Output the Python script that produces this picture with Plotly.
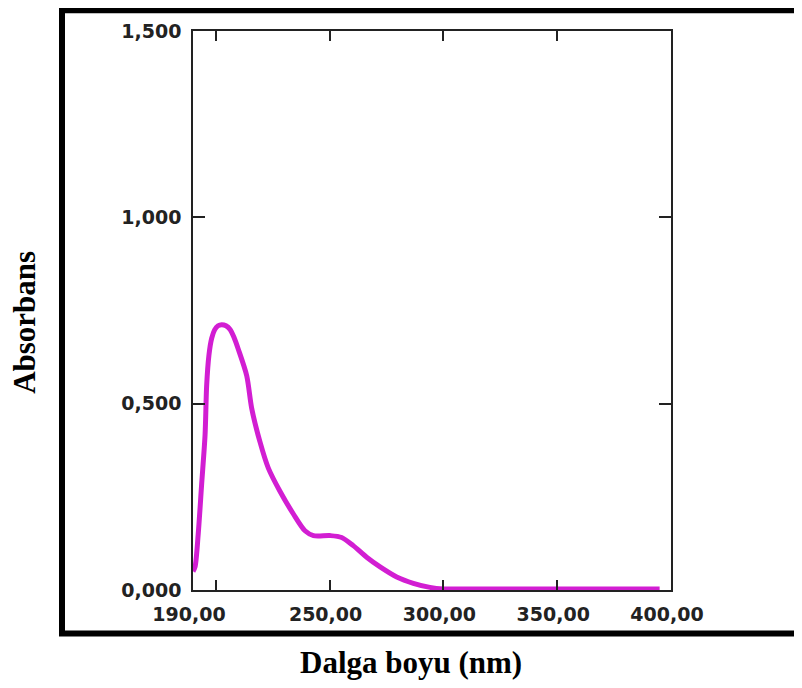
import plotly.graph_objects as go

# Data
wavelength = [190, 190.9, 192.3, 193.8, 195.3, 196.0, 197.0, 198.2, 199.5, 201.0, 202.6,
              204.5, 206.3, 208.0, 209.9, 213.6, 215.8, 219.4, 223.1, 228.2, 234.1,
              239.2, 242.9, 250.2, 255.3, 260.4, 266.3, 272.2, 279.5, 286.8, 294.1,
              300, 320, 340, 360, 380, 395]
absorbance = [0.05, 0.062, 0.151, 0.284, 0.416, 0.549, 0.630, 0.675, 0.698, 0.709, 0.712,
              0.709, 0.699, 0.678, 0.646, 0.575, 0.487, 0.398, 0.327, 0.265, 0.204,
              0.159, 0.146, 0.146, 0.141, 0.119, 0.088, 0.062, 0.035, 0.018, 0.007,
              0.003, 0.003, 0.003, 0.003, 0.003, 0.003]

x_tickvals = [190, 250, 300, 350, 400]
x_ticktext = ["190,00", "250,00", "300,00", "350,00", "400,00"]
x_minor_ticks = [200]
y_tickvals = [0, 0.5, 1.0, 1.5]
y_ticktext = ["0,000", "0,500", "1,000", "1,500"]

x_title = "Dalga boyu (nm)"
y_title = "Absorbans"

OFF = 8  # page body margin of the html page
W, H = 802 - OFF, 688 - OFF
L, R, T, B = 193 - OFF, 671 - OFF, 25 - OFF, 590 - OFF  # plot area in figure pixels
pw, ph = R - L, B - T

def px(x):
    return (x - OFF - L) / pw

def py(y):
    return (B - (y - OFF)) / ph

fig = go.Figure()
fig.add_trace(go.Scatter(
    x=wavelength, y=absorbance, mode="lines",
    line=dict(color="#D21ED2", width=5, shape="spline", smoothing=0.8),
    showlegend=False, hoverinfo="skip"))

axis_color = "#222222"
tick_font = dict(family="DejaVu Sans", size=19, color="#222222", weight="bold")

fig.update_layout(
    width=W, height=H,
    margin=dict(l=L, r=W - R, t=T, b=H - B, pad=0),
    paper_bgcolor="white", plot_bgcolor="white",
    xaxis=dict(
        range=[190, 400], tickmode="array", tickvals=x_tickvals, ticktext=x_ticktext,
        ticks="inside", ticklen=10, tickwidth=1.5, tickcolor=axis_color,
        showline=True, linecolor=axis_color, linewidth=1.5, mirror="ticks",
        showgrid=False, zeroline=False, tickfont=tick_font,
        ticklabelstandoff=6, ticklabelshift=-4,
        minor=dict(tickmode="array", tickvals=x_minor_ticks, ticks="inside",
                   ticklen=10, tickwidth=1.5, tickcolor=axis_color, showgrid=False),
    ),
    yaxis=dict(
        range=[0, 1.5], tickmode="array", tickvals=y_tickvals, ticktext=y_ticktext,
        ticks="inside", ticklen=12, tickwidth=1.5, tickcolor=axis_color,
        showline=True, linecolor=axis_color, linewidth=1.5, mirror="ticks",
        showgrid=False, zeroline=False, tickfont=tick_font,
        ticklabelstandoff=6,
    ),
    shapes=[dict(
        type="rect", xref="paper", yref="paper",
        x0=px(62), x1=px(830), y0=py(634), y1=py(4),
        line=dict(color="black", width=6), fillcolor="rgba(0,0,0,0)", layer="above")],
    annotations=[
        dict(text=x_title, xref="paper", yref="paper", x=px(411), y=py(663),
             xanchor="center", yanchor="middle", showarrow=False,
             font=dict(family="Liberation Serif", size=31, color="black", weight="bold")),
        dict(text=y_title, xref="paper", yref="paper", x=px(25), y=py(320),
             xanchor="center", yanchor="middle", showarrow=False, textangle=-90,
             font=dict(family="Liberation Serif", size=31, color="black", weight="bold")),
    ],
)

fig.write_html("out.html")
